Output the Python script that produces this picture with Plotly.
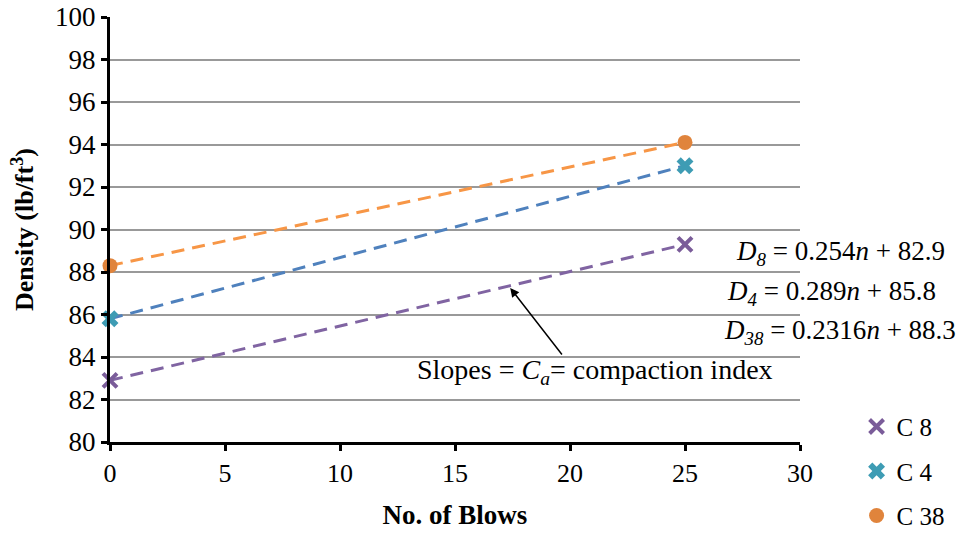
import plotly.graph_objects as go
import numpy as np

blows = [0, 25]
series_names = ["C 8", "C 4", "C 38"]
c8_density = [82.9, 89.3]
c4_density = [85.8, 93.0]
c38_density = [88.3, 94.1]

x_ticks = [0, 5, 10, 15, 20, 25, 30]
y_ticks = [80, 82, 84, 86, 88, 90, 92, 94, 96, 98, 100]

equations = [
    "<i>D<sub>8</sub></i> = 0.254<i>n</i> + 82.9",
    "<i>D<sub>4</sub></i> = 0.289<i>n</i> + 85.8",
    "<i>D<sub>38</sub></i> = 0.2316<i>n</i> + 88.3",
]

FONT = "Liberation Serif, Times New Roman, serif"
marker_colors = ["#7A5C99", "#3E9CB4", "#E0843C"]
trend_colors = ["#8064A2", "#4F81BD", "#F79646"]
symbols = ["x-thin-open", "x", "circle"]

fig = go.Figure()
data = [c8_density, c4_density, c38_density]

# trendlines (linear fit through data)
for vals, col in zip(data, trend_colors):
    k, b = np.polyfit(blows, vals, 1)
    xs = np.array(blows, dtype=float)
    fig.add_trace(go.Scatter(x=xs, y=k * xs + b, mode="lines",
                             line=dict(color=col, width=3, dash="13px,8px"),
                             showlegend=False, hoverinfo="skip", cliponaxis=False))

for name, vals, col, sym in zip(series_names, data, marker_colors, symbols):
    if sym == "x-thin-open":
        marker = dict(symbol=sym, size=14, color=col, line=dict(color=col, width=4))
    elif sym == "x":
        marker = dict(symbol=sym, size=15, color=col, line=dict(width=0))
    else:
        marker = dict(symbol=sym, size=15, color=col, line=dict(width=0))
    fig.add_trace(go.Scatter(x=blows, y=vals, mode="markers", name=name,
                             legendgroup=name, marker=marker, cliponaxis=False))

eq_pos = [(1.058, 0.445), (1.046, 0.351), (1.058, 0.259)]
for txt, (px, py) in zip(equations, eq_pos):
    fig.add_annotation(x=px, y=py, xref="paper", yref="paper", text=txt,
                       showarrow=False, xanchor="center", yanchor="middle",
                       font=dict(family=FONT, size=27, color="black"))

fig.add_annotation(x=0.703, y=0.165, xref="paper", yref="paper",
                   text="Slopes = <i>C<sub>a</sub></i>= compaction index",
                   showarrow=False, xanchor="center", yanchor="middle",
                   font=dict(family=FONT, size=28, color="black"))

fig.add_annotation(x=17.4, y=87.25, xref="x", yref="y",
                   ax=19.7, ay=84.05, axref="x", ayref="y",
                   text="", showarrow=True, arrowhead=2, arrowsize=1.2,
                   arrowwidth=1.5, arrowcolor="black")

fig.update_xaxes(range=[0, 30], tickvals=x_ticks, showgrid=False,
                 showline=True, linecolor="black", linewidth=3,
                 ticks="outside", ticklen=6, tickwidth=3, tickcolor="black",
                 tickfont=dict(family=FONT, size=26, color="black"),
                 title=dict(text="<b>No. of Blows</b>", standoff=18,
                            font=dict(family=FONT, size=27, color="black")),
                 zeroline=False, automargin=False)
fig.update_yaxes(range=[80, 100], tickvals=y_ticks, showgrid=True,
                 gridcolor="#999999", gridwidth=1.5,
                 showline=True, linecolor="black", linewidth=3,
                 ticks="outside", ticklen=6, tickwidth=3, tickcolor="black",
                 tickfont=dict(family=FONT, size=27, color="black"),
                 title=dict(text="<b>Density (lb/ft<sup>3</sup>)</b>", standoff=14,
                            font=dict(family=FONT, size=26, color="black")),
                 zeroline=False, automargin=False)

fig.update_layout(
    width=969, height=535,
    font=dict(family=FONT),
    margin=dict(l=110, r=169, t=17, b=93, autoexpand=False),
    plot_bgcolor="white", paper_bgcolor="white",
    legend=dict(x=1.082, y=0.09, xanchor="left", yanchor="top",
                font=dict(family=FONT, size=25, color="black"),
                tracegroupgap=9, itemwidth=30, bgcolor="rgba(0,0,0,0)"),
    showlegend=True,
)

fig.write_html("out.html")
